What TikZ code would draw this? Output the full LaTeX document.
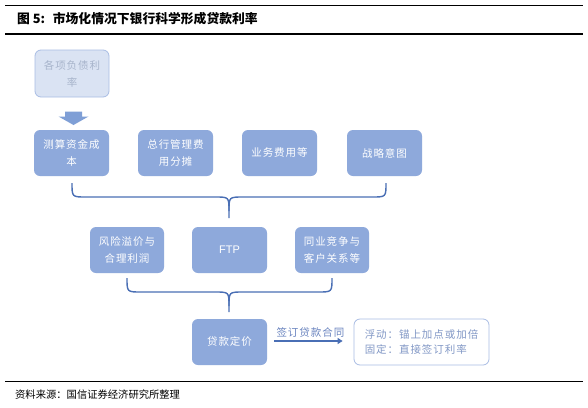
\documentclass[tikz,border=0pt]{standalone}
\usepackage{fontspec}
\usetikzlibrary{arrows.meta}
\newfontfamily\cjk[LetterSpace=9]{Noto Sans CJK SC}
\newfontfamily\cjkt{Noto Sans CJK SC}
\setsansfont{Liberation Sans}
\definecolor{boxfill}{HTML}{8EA9DB}
\definecolor{lightfill}{HTML}{DAE3F3}
\definecolor{lightedge}{HTML}{A9BDE4}
\definecolor{lighttext}{HTML}{A7B4CB}
\definecolor{arrowblue}{HTML}{7F9FD6}
\definecolor{bracecol}{HTML}{4A6FB5}
\definecolor{labelcol}{HTML}{6A84BF}
\definecolor{rtext}{HTML}{8298C6}
\tikzset{
  bluebox/.style={draw=none, fill=boxfill, rounded corners=6pt, minimum width=75pt, minimum height=46pt, text=white, align=center, font=\cjk\fontsize{10.5}{17}\selectfont, inner sep=2pt},
  lightbox/.style={draw=lightedge, line width=0.8pt, fill=lightfill, rounded corners=6pt, minimum width=74pt, minimum height=47pt, text=lighttext, align=center, font=\cjk\fontsize{10.5}{17}\selectfont},
  outbox/.style={draw=lightedge, line width=0.8pt, fill=white, rounded corners=6pt, minimum width=135pt, minimum height=46pt, text=rtext, align=left, font=\cjk\fontsize{10.5}{15}\selectfont},
  bracepath/.style={draw=bracecol, line width=1.4pt},
  rule/.style={draw=black, line width=1.1pt}
}
\begin{document}
\begin{tikzpicture}[x=1pt,y=-1pt]
\useasboundingbox[fill=white] (0,0) rectangle (588,407);
% rules
\draw[rule] (5,5.5) -- (583,5.5);
\draw[rule] (5,34) -- (583,34);
\draw[rule] (5,381.5) -- (583,381.5);
\node[anchor=west, inner sep=0, font=\cjkt\bfseries\fontsize{12.8}{14}\selectfont] (title) at (17,19) {图 5:\hspace{0.6em}市场化情况下银行科学形成贷款利率};
\node[anchor=west, inner sep=0, font=\cjkt\fontsize{10.3}{12}\selectfont] (source) at (15,395) {资料来源：国信证券经济研究所整理};
% top box
\node[lightbox] (liab) at (72,73.5) {各项负债利\\率};
% block arrow
\fill[arrowblue] (65,111.5) -- (82,111.5) -- (82,116.5) -- (88.5,116.5) -- (73.5,125) -- (58.5,116.5) -- (65,116.5) -- cycle;
% row 1
\node[bluebox] (b1) at (71.5,153) {测算资金成\\本};
\node[bluebox] (b2) at (175.5,153) {总行管理费\\用分摊};
\node[bluebox] (b3) at (279.5,153) {业务费用等};
\node[bluebox] (b4) at (384.5,153) {战略意图};
% brace 1
\draw[bracepath] (72,183) .. controls (72,197) and (72,197) .. (86,197) -- (215,197) .. controls (229,197) and (229,197) .. (229,211) -- (229,218);
\draw[bracepath] (386,183) .. controls (386,197) and (386,197) .. (372,197) -- (243,197) .. controls (229,197) and (229,197) .. (229,211);
% row 2
\node[bluebox, minimum width=74pt] (r1) at (127,250) {风险溢价与\\合理利润};
\node[bluebox, font=\sffamily\fontsize{11}{13}\selectfont] (ftp) at (229.5,250) {FTP};
\node[bluebox, minimum width=74pt] (r3) at (332,250) {同业竞争与\\客户关系等};
% brace 2
\draw[bracepath] (127,278) .. controls (127,292) and (127,292) .. (141,292) -- (215,292) .. controls (229,292) and (229,292) .. (229,306) -- (229,312);
\draw[bracepath] (332,278) .. controls (332,292) and (332,292) .. (318,292) -- (243,292) .. controls (229,292) and (229,292) .. (229,306);
% bottom
\node[bluebox] (price) at (229.5,342) {贷款定价};
\node[outbox] (out) at (421.5,342) {浮动：锚上加点或加倍\\固定：直接签订利率};
\draw[draw=bracecol, line width=1.6pt, -{Triangle[length=5pt,width=6pt]}, shorten <=7pt, shorten >=11pt] (price.east |- 0,341) -- (out.west |- 0,341) node[midway, above=3pt, text=labelcol, font=\cjk\fontsize{10.5}{12}\selectfont, inner sep=0] (lbl) {签订贷款合同};
\end{tikzpicture}
\end{document}
